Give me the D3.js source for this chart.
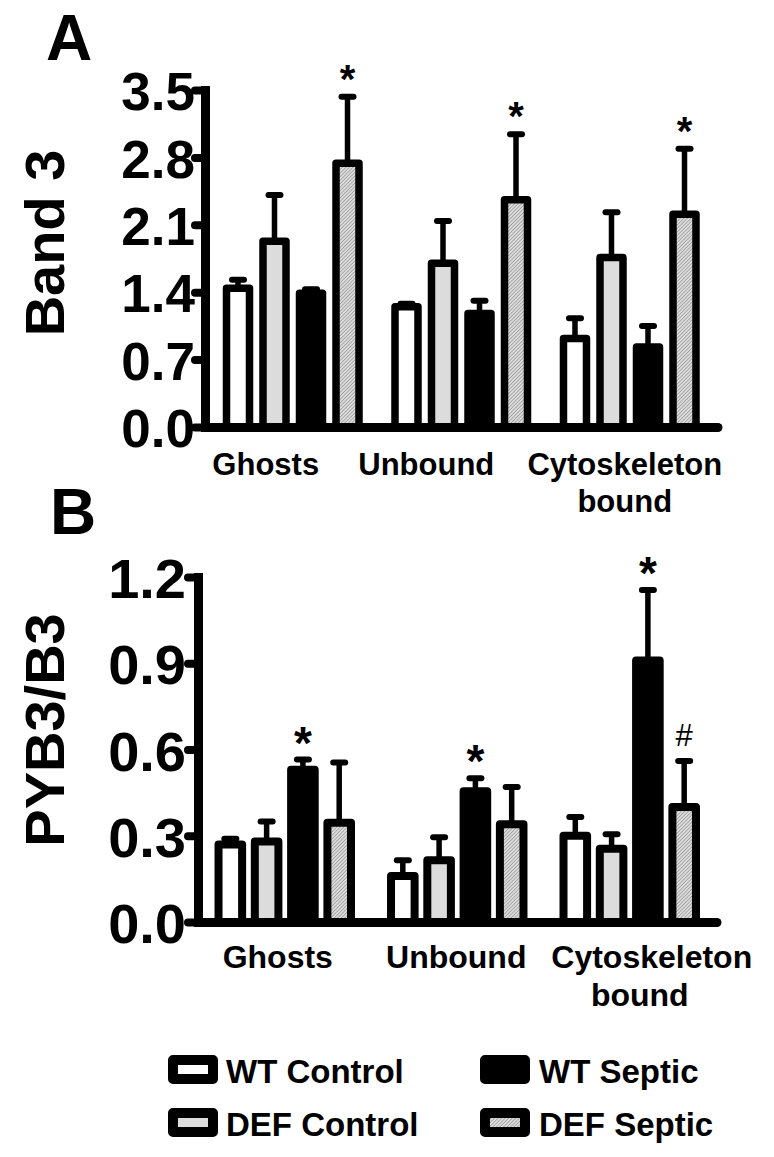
<!DOCTYPE html>
<html>
<head>
<meta charset="utf-8">
<script src="https://cdn.jsdelivr.net/npm/d3@7"></script>
<style>
  body { margin: 0; background: #fff; }
  svg { display: block; }
  text { font-family: "Liberation Sans", Arial, sans-serif; }
</style>
</head>
<body>
<svg id="chart"></svg>
<script>
// groups and series
var groups = ['Ghosts', 'Unbound', 'Cytoskeleton bound']
var series = ['WT Control', 'DEF Control', 'WT Septic', 'DEF Septic']

// panel A: Band 3 (mean, SEM), rows = groups, cols = series
var band3Mean = [[1.44, 1.93, 1.39, 2.74], [1.25, 1.70, 1.18, 2.36], [0.92, 1.76, 0.83, 2.21]]
var band3Err = [[0.09, 0.48, 0.04, 0.69], [0.03, 0.44, 0.13, 0.68], [0.21, 0.47, 0.22, 0.68]]
var band3Marks = [['', '', '', '*'], ['', '', '', '*'], ['', '', '', '*']]
var band3Ticks = [0, 0.7, 1.4, 2.1, 2.8, 3.5]

// panel B: PYB3/B3
var pybMean = [[0.27, 0.28, 0.53, 0.345], [0.16, 0.215, 0.455, 0.34], [0.30, 0.255, 0.91, 0.40]]
var pybErr = [[0.02, 0.07, 0.035, 0.21], [0.055, 0.08, 0.045, 0.13], [0.065, 0.05, 0.245, 0.16]]
var pybMarks = [['', '', '*', ''], ['', '', '*', ''], ['', '', '*', '#']]
var pybTicks = [0, 0.3, 0.6, 0.9, 1.2]

var W = 774, H = 1157
var svg = d3.select('#chart').attr('width', W).attr('height', H)

var defs = svg.append('defs')
var pat = defs.append('pattern')
    .attr('id', 'hatch')
    .attr('patternUnits', 'userSpaceOnUse')
    .attr('width', 2.5).attr('height', 2.5)
    .attr('patternTransform', 'rotate(45)')
pat.append('rect').attr('width', 2.5).attr('height', 2.5).attr('fill', '#dedede')
pat.append('line').attr('x1', 0).attr('y1', 0).attr('x2', 0).attr('y2', 2.5)
    .attr('stroke', '#7a7a7a').attr('stroke-width', 1.1)

var fills = ['#ffffff', '#dcdcdc', '#000000', 'url(#hatch)']

function panel(cfg) {
    var g = svg.append('g')
    var y = d3.scaleLinear().domain(cfg.domain).range([cfg.y0, cfg.y1])
    var xGroup = d3.scaleBand().domain(groups).range([cfg.x0, cfg.x1])
        .paddingInner(cfg.padIn).paddingOuter(cfg.padOut)
    var xSeries = d3.scaleBand().domain(series).range([0, xGroup.bandwidth()])
        .paddingInner(cfg.barPad).paddingOuter(0)

    var rows = []
    groups.forEach(function(grp, i) {
        series.forEach(function(s, j) {
            rows.push({ g: grp, s: s, j: j, m: cfg.mean[i][j], e: cfg.err[i][j], mark: cfg.marks[i][j] })
        })
    })
    var bx = function(d) { return xGroup(d.g) + xSeries(d.s) }
    var bw = xSeries.bandwidth()

    // error bars (up only)
    var eb = g.selectAll('.eb').data(rows).enter().append('g')
    eb.append('line')
        .attr('x1', function(d) { return bx(d) + bw / 2 })
        .attr('x2', function(d) { return bx(d) + bw / 2 })
        .attr('y1', function(d) { return y(d.m) })
        .attr('y2', function(d) { return y(d.m + d.e) })
        .attr('stroke', '#000').attr('stroke-width', 5.5)
    eb.append('line')
        .attr('x1', function(d) { return bx(d) + bw / 2 - 6 })
        .attr('x2', function(d) { return bx(d) + bw / 2 + 6 })
        .attr('y1', function(d) { return y(d.m + d.e) })
        .attr('y2', function(d) { return y(d.m + d.e) })
        .attr('stroke', '#000').attr('stroke-width', 6).attr('stroke-linecap', 'round')

    // bars
    g.selectAll('.bar').data(rows).enter().append('rect')
        .attr('x', bx)
        .attr('y', function(d) { return y(d.m) })
        .attr('width', bw)
        .attr('height', function(d) { return y(0) - y(d.m) })
        .attr('fill', function(d) { return fills[d.j] })
        .attr('stroke', '#000')
        .attr('stroke-width', cfg.barStroke)
        .attr('stroke-linejoin', 'round')

    // significance marks
    g.selectAll('.mark').data(rows.filter(function(d) { return d.mark })).enter().append('text')
        .text(function(d) { return d.mark })
        .attr('x', function(d) { return bx(d) + bw / 2 })
        .attr('y', function(d) { return y(d.m + d.e) - (d.mark == '#' ? 15 : cfg.markGap) })
        .attr('text-anchor', 'middle')
        .attr('font-weight', function(d) { return d.mark == '#' ? 'normal' : 'bold' })
        .attr('font-size', function(d) { return d.mark == '#' ? '31px' : cfg.markSize })

    // x axis
    var xa = g.append('g').attr('transform', 'translate(0,' + y(0) + ')')
        .call(d3.axisBottom(xGroup).tickSize(0).tickFormat(''))
    xa.select('.domain').attr('stroke-width', 9).attr('stroke-linecap', 'round')

    // y axis
    var ya = g.append('g').attr('transform', 'translate(' + cfg.x0 + ',0)')
        .call(d3.axisLeft(y).tickValues(cfg.ticks).tickSize(10).tickSizeOuter(0)
            .tickPadding(cfg.tickPad).tickFormat(d3.format('.1f')))
    ya.select('.domain').attr('stroke-width', 9).attr('stroke-linecap', 'square')
    ya.selectAll('.tick line').attr('stroke-width', 8).attr('stroke-linecap', 'round')
    ya.selectAll('.tick text')
        .attr('font-family', '"Liberation Sans", Arial, sans-serif')
        .attr('font-weight', 'bold')
        .attr('font-size', cfg.tickSize)
        .attr('fill', '#000')
        .attr('dy', '0.37em')

    // category labels
    var lab = g.selectAll('.lab').data(groups).enter().append('text')
        .attr('text-anchor', 'middle')
        .attr('font-weight', 'bold')
        .attr('font-size', cfg.labSize)
        .attr('transform', function(d, i) {
            return 'translate(' + (xGroup(d) + xGroup.bandwidth() / 2 + cfg.labDx[i]) + ',' + (y(0) + cfg.labDy) + ')'
        })
    lab.each(function(d) {
        var words = d.split(' ')
        var t = d3.select(this)
        words.forEach(function(w, k) {
            t.append('tspan').text(w).attr('x', k ? cfg.bondDx : 0).attr('dy', k ? '1.2em' : 0)
        })
    })

    // y title
    g.append('text')
        .text(cfg.title)
        .attr('transform', 'translate(' + cfg.titleX + ',' + cfg.titleY + ') rotate(-90)')
        .attr('text-anchor', 'middle')
        .attr('font-weight', 'bold')
        .attr('font-size', '56px')

    // panel letter
    g.append('text')
        .text(cfg.letter)
        .attr('x', cfg.letterX).attr('y', cfg.letterY)
        .attr('font-weight', 'bold')
        .attr('font-size', '64px')
}

panel({
    mean: band3Mean, err: band3Err, marks: band3Marks, ticks: band3Ticks,
    domain: [0, 3.5], y0: 427, y1: 90, x0: 205, x1: 717.5,
    padIn: 0.2136, padOut: 0.1276, barPad: 0.37, barStroke: 7.5,
    markGap: 4, markSize: '40px', tickPad: 0, tickSize: '53px',
    labSize: '31px', labDx: [-27, -35, -5], labDy: 48, bondDx: 0,
    title: 'Band 3', titleX: 64, titleY: 243, letter: 'A', letterX: 46, letterY: 60
})

panel({
    mean: pybMean, err: pybErr, marks: pybMarks, ticks: pybTicks,
    domain: [0, 1.2], y0: 922, y1: 577, x0: 198, x1: 716.5,
    padIn: 0.232, padOut: 0.119, barPad: 0.35, barStroke: 8,
    markGap: 1, markSize: '46px', tickPad: 2, tickSize: '56px',
    labSize: '32px', labDx: [-7, -1, 22], labDy: 46, bondDx: -12,
    title: 'PYB3/B3', titleX: 64, titleY: 730, letter: 'B', letterX: 50, letterY: 534
})

// legend
var legendCol = [0, 0, 1, 1]
var legendRow = [0, 1, 0, 1]
var legendOrder = ['WT Control', 'DEF Control', 'WT Septic', 'DEF Septic']
var colX = [173, 485], rowY = [1060, 1113]

var leg = svg.selectAll('.leg').data(legendOrder).enter().append('g')
    .attr('transform', function(d, i) { return 'translate(' + colX[legendCol[i]] + ',' + rowY[legendRow[i]] + ')' })
leg.append('rect')
    .attr('width', 40).attr('height', 19)
    .attr('fill', function(d) { return fills[series.indexOf(d)] })
    .attr('stroke', '#000').attr('stroke-width', 10).attr('stroke-linejoin', 'round')
leg.append('text')
    .text(function(d) { return d })
    .attr('x', function(d, i) { return legendCol[i] ? 54 : 53 })
    .attr('y', 23)
    .attr('font-weight', 'bold')
    .attr('font-size', '33px')
</script>
</body>
</html>
